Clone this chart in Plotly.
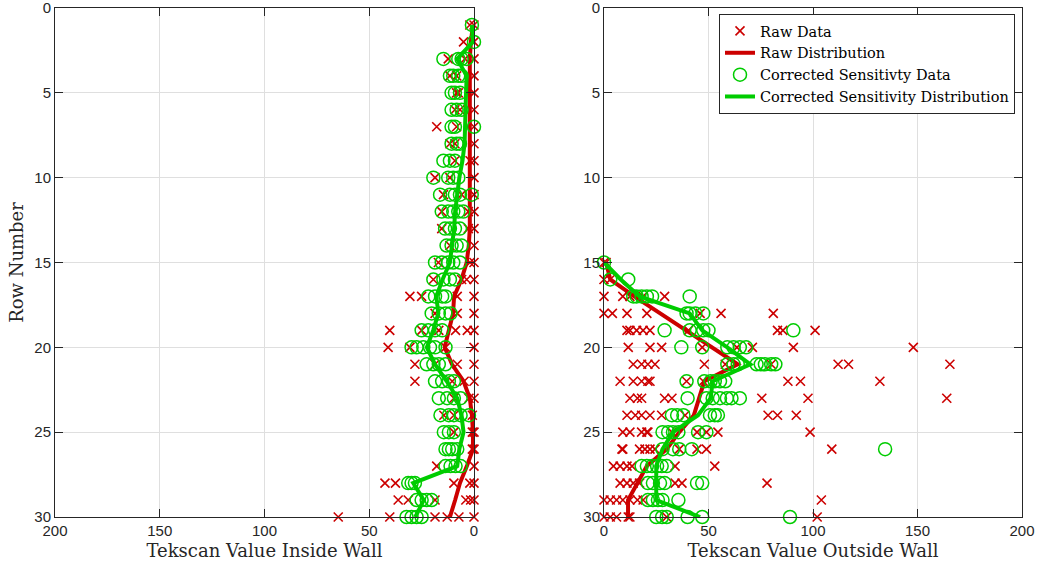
import plotly.graph_objects as go

# ---------------- data ----------------
left_rows = list(range(1, 31))
left_raw = [
    [0, 2], [0, 5], [0, 12.3, 4.3], [11.5, 8.3, 0], [8.3, 7.5, 0],
    [9.1, 6.7, 0], [17.8, 8.3, 0], [11.5, 9.1, 0], [9.1, 1.9, 0], [18.6, 11.5, 0],
    [14.6, 5.9, 0], [15.4, 2.7, 0], [15.4, 2.7, 0], [11.5, 0], [17, 1.9, 0],
    [19.4, 5.9, 3.5, 0], [30.6, 25, 8, 0], [18.6, 8, 0], [40.2, 25, 16.8, 8.8, 3.2, 0], [41, 30.6, 13.6, 0],
    [28.2, 18.6, 8, 0], [28.2, 10.4, 4.7, 0], [9.6, 2.4, 0], [14.4, 9.6, 0.8], [9.6, 0.8, 0],
    [0.8, 0], [17.8, 0], [42.5, 37.5, 9.6, 2, 0], [36.2, 31.4, 18.6, 3.9, 1.6, 0], [64.8, 40.2, 18.6, 12.8, 7.2, 0],
]
left_corr = [
    [1], [0], [14.6, 7.5, 5.9, 3.5], [11.5, 9.9, 7.5, 5.9], [10.7, 9.1, 6.7],
    [10.7, 8.3, 5.9], [10.7, 9.1, 0], [10.7, 8.3, 6.7], [14.6, 11.5, 9.1], [19.4, 12.3, 9.9, 7.5],
    [16.2, 11.5, 9.1, 6.7, 1.1], [15.4, 12.3, 9.9, 7.5, 5.1], [13.8, 11.5, 9.1, 6.7], [13.1, 10.7, 8.3, 5.9], [18.6, 15.4, 12.3, 9.9, 6.7],
    [19.4, 14.6, 11.5, 9.1], [21.8, 18.6, 15.2, 13.6], [20.2, 16.8, 13.6, 11.2], [25, 21.8, 18.6, 15.2], [29.8, 27.4, 24.2, 21, 18.6, 13.6],
    [22.6, 19.4, 16.8, 13.6], [18.6, 15.2, 12, 9.6], [16.8, 12.8, 9.6, 6.4], [16, 12, 9.6, 6.4, 2.4], [14.4, 12, 9.6],
    [13.6, 12, 10.4, 8], [13.6, 11.2, 8.8, 6.4], [31.4, 29.8, 28.2], [27.4, 25, 22.6, 20.2], [32.2, 29.8, 27.4, 25],
]
left_raw_dist = [0.5, 1.5, 2, 2, 2, 2, 2, 2, 2, 2, 2, 2, 2, 2.5, 3.5,
                 6, 9.5, 10, 12, 14, 10.5, 5, 2, 1, 0.5, 0.5, 3.4, 6.7, 9, 11.5]
left_corr_dist = [1, 0.5, 8, 3.5, 3.8, 4, 4.5, 4.5, 5.5, 7, 8, 9, 9.5, 10.5, 11.5,
                  15, 18, 17, 19.5, 22.5, 18.6, 13, 8, 6, 5, 7, 8, 29, 24, 28]

right_rows = list(range(15, 31))
right_raw = [
    [0, 1], [0, 3], [0, 9, 12.4, 18.7, 29], [0, 4, 11, 20.5, 46, 56, 81],
    [11, 12.4, 15.6, 18.7, 22, 40.4, 83, 85.6, 101], [11.6, 22, 27.6, 47, 63.6, 71, 90.6, 148],
    [14, 18, 21, 24.4, 48, 58, 80, 112, 117, 165.5], [7.7, 14, 18, 21, 22, 39.5, 47.5, 88, 94, 132],
    [12.4, 16, 18, 29, 32.5, 75.5, 97.6, 164], [11, 15, 18, 22, 27.6, 38.8, 78.5, 83, 92],
    [9, 12.4, 18, 20.5, 21, 32.5, 44.5, 49, 54.5, 98.6], [8.6, 9, 17, 19.6, 22, 24.4, 36, 44.5, 49, 109],
    [4.5, 7.7, 11, 13.4, 34, 53], [7.7, 11, 14, 17, 34, 37.3, 78],
    [0, 3, 6, 9, 12.4, 16, 18.7, 104], [0, 3, 6, 11.6, 12.4, 30, 102],
]
right_corr = [
    [0], [3, 11.6], [14, 15.6, 18, 20.5, 23, 41], [39.5, 41, 43.7, 47.5],
    [29, 41, 44.5, 47.5, 50, 90.6], [37, 47, 59, 62, 65, 68],
    [59, 62, 64, 73, 75, 77, 80, 82], [39.5, 48, 51, 53, 55.5, 58],
    [40, 49, 52, 55.5, 58.8, 61, 65], [32.5, 35, 38, 50.7, 53, 54.5],
    [28, 30.7, 33, 35.6, 45, 49], [28, 33, 36, 42, 134.5],
    [18, 20.5, 23, 25.4, 27.6, 30], [21, 23.4, 26.8, 29, 44.5, 47],
    [21, 23.4, 25.8, 28, 35.6], [25, 27.8, 30, 40, 47, 89],
]
right_raw_dist = [1, 3, 14.5, 27, 39, 51.6, 64, 48, 45.5, 43, 36, 30, 20.5, 15.8, 11.5, 11.5]
right_corr_dist = [0, 8, 17, 41, 47, 59, 70, 52, 51, 45, 33, 28, 25, 25, 25, 46]

x_ticks = [0, 50, 100, 150, 200]
y_ticks = [0, 5, 10, 15, 20, 25, 30]

# ---------------- styling ----------------
RED = "#CC0000"
GREEN = "#00CC00"
AX = "#262626"
GRID = "#DFDFDF"
SERIF = "DejaVu Serif, Liberation Serif, serif"
SANS = "Liberation Sans, Arial, sans-serif"


def flatten(rows, lists):
    xs, ys = [], []
    for r, vals in zip(rows, lists):
        for v in vals:
            xs.append(v)
            ys.append(r)
    return xs, ys


fig = go.Figure()

for rows, raw, corr, rdist, cdist, xa, ya, show in [
    (left_rows, left_raw, left_corr, left_raw_dist, left_corr_dist, "x", "y", False),
    (right_rows, right_raw, right_corr, right_raw_dist, right_corr_dist, "x2", "y2", True),
]:
    rx, ry = flatten(rows, raw)
    cx, cy = flatten(rows, corr)
    fig.add_trace(go.Scatter(x=rx, y=ry, mode="markers", name="Raw Data", xaxis=xa, yaxis=ya,
                             showlegend=show, cliponaxis=False,
                             marker=dict(symbol="x-thin", size=9, color=RED,
                                         line=dict(width=1.6, color=RED))))
    fig.add_trace(go.Scatter(x=rdist, y=rows, mode="lines", name="Raw Distribution", xaxis=xa, yaxis=ya,
                             showlegend=show, cliponaxis=False,
                             line=dict(color=RED, width=4)))
    fig.add_trace(go.Scatter(x=cx, y=cy, mode="markers", name="Corrected Sensitivty Data", xaxis=xa, yaxis=ya,
                             showlegend=show, cliponaxis=False,
                             marker=dict(symbol="circle-open", size=13, color=GREEN,
                                         line=dict(width=1.5, color=GREEN))))
    fig.add_trace(go.Scatter(x=cdist, y=rows, mode="lines", name="Corrected Sensitivity Distribution",
                             xaxis=xa, yaxis=ya, showlegend=show, cliponaxis=False,
                             line=dict(color=GREEN, width=4)))

common_x = dict(tickmode="array", tickvals=x_ticks, ticks="inside", ticklen=8, tickcolor=AX,
                showline=True, linecolor=AX, linewidth=1, mirror="ticks",
                showgrid=True, gridcolor=GRID, gridwidth=1, zeroline=False,
                ticklabeloverflow="allow",
                tickfont=dict(family=SANS, size=15, color=AX), automargin=False)
common_y = dict(tickmode="array", tickvals=y_ticks, ticks="inside", ticklen=8, tickcolor=AX,
                showline=True, linecolor=AX, linewidth=1, mirror="ticks",
                showgrid=True, gridcolor=GRID, gridwidth=1, zeroline=False,
                ticklabeloverflow="allow",
                tickfont=dict(family=SANS, size=15, color=AX), automargin=False,
                range=[30, 0])

W, H = 1042, 571
fig.update_layout(
    width=W, height=H,
    margin=dict(l=0, r=0, t=0, b=0),
    paper_bgcolor="white", plot_bgcolor="white",
    xaxis=dict(common_x, domain=[55 / W, 474 / W], range=[200, 0], anchor="y",
               title=dict(text="Tekscan Value Inside Wall", font=dict(family=SERIF, size=18, color=AX), standoff=6)),
    yaxis=dict(common_y, domain=[54 / H, 563 / H], anchor="x",
               title=dict(text="Row Number", font=dict(family=SERIF, size=18, color=AX), standoff=6)),
    xaxis2=dict(common_x, domain=[604 / W, 1022 / W], range=[0, 200], anchor="y2",
                title=dict(text="Tekscan Value Outside Wall", font=dict(family=SERIF, size=18, color=AX), standoff=6)),
    yaxis2=dict(common_y, domain=[54 / H, 563 / H], anchor="x2"),
    legend=dict(x=1015 / W, y=1 - 14 / H, xanchor="right", yanchor="top",
                bgcolor="white", bordercolor=AX, borderwidth=1,
                font=dict(family=SERIF, size=14.5, color="black"),
                tracegroupgap=0, itemwidth=30),
    showlegend=True,
)

fig.write_html("out.html", config={"displayModeBar": False})
